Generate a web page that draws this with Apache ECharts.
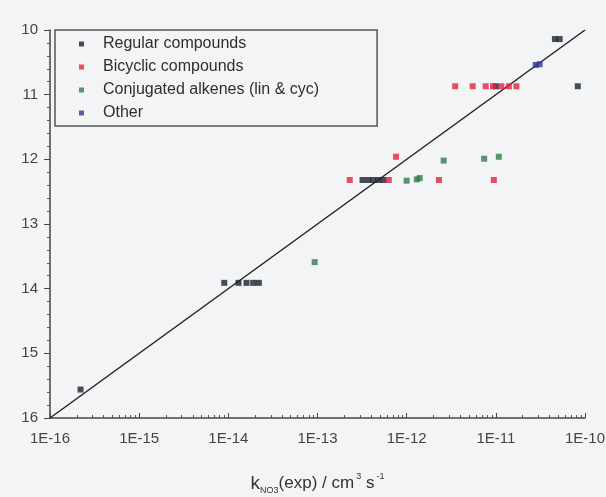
<!DOCTYPE html>
<html>
<head>
<meta charset="utf-8">
<script src="https://cdn.jsdelivr.net/npm/echarts@6/dist/echarts.min.js"></script>
<style>
  html, body { margin: 0; padding: 0; background: #f3f4f6; }
  #chart { width: 606px; height: 497px; }
</style>
</head>
<body>
<div id="chart"></div>
<script>
// [k_exp, k_calc] pairs
var regular = [
  [2.2e-16, 15.56],
  [9.0e-15, 13.91], [1.3e-14, 13.91], [1.6e-14, 13.91], [1.9e-14, 13.91], [2.2e-14, 13.91],
  [3.2e-13, 12.32], [3.7e-13, 12.32], [4.2e-13, 12.32], [4.8e-13, 12.32], [5.5e-13, 12.32],
  [1.0e-11, 10.87],
  [4.6e-11, 10.14], [5.2e-11, 10.14],
  [8.3e-11, 10.87]
];
var bicyclic = [
  [3.5e-12, 10.87], [5.5e-12, 10.87], [7.7e-12, 10.87], [9.3e-12, 10.87],
  [1.15e-11, 10.87], [1.4e-11, 10.87], [1.7e-11, 10.87],
  [2.3e-13, 12.32], [6.3e-13, 12.32], [2.3e-12, 12.32], [9.5e-12, 12.32],
  [7.6e-13, 11.96]
];
var conjugated = [
  [1.0e-12, 12.33], [1.3e-12, 12.31], [1.4e-12, 12.29],
  [2.6e-12, 12.02], [7.4e-12, 11.99], [1.08e-11, 11.96],
  [9.3e-14, 13.59]
];
var other = [
  [2.8e-11, 10.54], [3.1e-11, 10.53]
];
var parity = [[1e-16, 16], [1e-10, 10]];

var chart = echarts.init(document.getElementById('chart'));

function pts(name, data, color) {
  return {
    name: name,
    type: 'scatter',
    data: data,
    symbol: 'rect',
    symbolSize: 6,
    itemStyle: { color: color },
    z: 3
  };
}

chart.setOption({
  backgroundColor: '#f3f4f6',
  animation: false,
  grid: { left: 50, right: 21, top: 30, bottom: 79, outerBoundsMode: 'none' },
  legend: {
    left: 55, top: 30,
    orient: 'vertical',
    icon: 'rect',
    itemWidth: 5, itemHeight: 5,
    itemGap: 7,
    padding: [6, 58, 5, 24],
    borderColor: '#555', borderWidth: 1.5,
    textStyle: { fontFamily: 'Liberation Sans', fontSize: 16, color: '#2e2e2e', padding: [0, 0, 0, 14] },
    data: ['Regular compounds', 'Bicyclic compounds', 'Conjugated alkenes (lin & cyc)', 'Other']
  },
  xAxis: {
    type: 'log', logBase: 10, min: 1e-16, max: 1e-10,
    axisLine: { show: true, lineStyle: { color: '#444', width: 1.5 } },
    axisTick: { inside: true, length: 5, lineStyle: { color: '#444' } },
    minorTick: { show: true, splitNumber: 9, length: 3, lineStyle: { color: '#555' } },
    splitLine: { show: false },
    axisLabel: {
      fontFamily: 'Liberation Sans', fontSize: 15, color: '#444', margin: 13,
      formatter: function (v) { return '1E' + Math.round(Math.log10(v)); }
    },
    name: '{k|k}{sub|NO3}{t|(exp) / cm}{sup|3}{t| s}{sup|-1}',
    nameLocation: 'middle', nameGap: 54,
    nameTextStyle: {
      rich: {
        k: { fontFamily: 'Liberation Sans', fontSize: 19, color: '#333' },
        t: { fontFamily: 'Liberation Sans', fontSize: 17, color: '#333' },
        sub: { fontFamily: 'Liberation Sans', fontSize: 9, color: '#333', padding: [14, 0, 0, 0] },
        sup: { fontFamily: 'Liberation Sans', fontSize: 9, color: '#333', padding: [0, 0, 14, 2] }
      }
    }
  },
  yAxis: {
    type: 'value', min: 10, max: 16, interval: 1, inverse: true,
    axisLine: { show: true, lineStyle: { color: '#444', width: 1.5 } },
    axisTick: { inside: false, length: 6, lineStyle: { color: '#444' } },
    minorTick: { show: true, splitNumber: 5, length: 3, lineStyle: { color: '#555' } },
    splitLine: { show: false },
    axisLabel: { fontFamily: 'Liberation Sans', fontSize: 15, color: '#444', margin: 12 }
  },
  series: [
    {
      type: 'line', data: parity, symbol: 'none', silent: true,
      lineStyle: { color: '#222', width: 1.5 }, z: 2
    },
    pts('Regular compounds', regular, '#1b2130'),
    pts('Bicyclic compounds', bicyclic, '#e3223f'),
    pts('Conjugated alkenes (lin & cyc)', conjugated, '#2f7a4c'),
    pts('Other', other, '#2c3a92')
  ]
});
</script>
</body>
</html>
